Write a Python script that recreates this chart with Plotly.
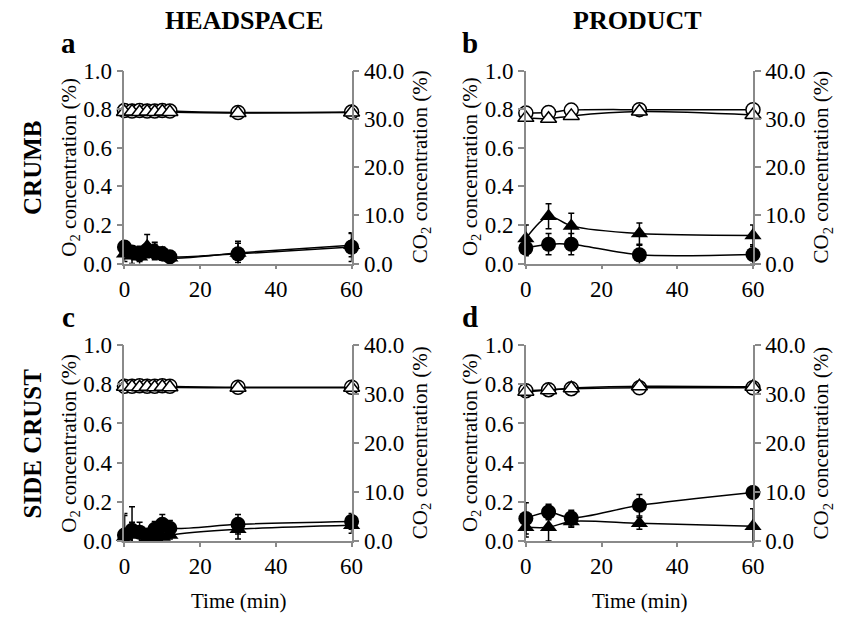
import plotly.graph_objects as go

# Sampling times (min)
time_headspace = [0, 2, 4, 6, 8, 10, 12, 30, 60]
time_product = [0, 6, 12, 30, 60]

# (a) Headspace - crumb
a_o2_circle = [0.085, 0.06, 0.05, 0.07, 0.06, 0.05, 0.035, 0.05, 0.085]
a_o2_circle_err = [0.03, 0.03, 0.04, 0.03, 0.04, 0.03, 0.02, 0.065, 0.075]
a_o2_tri = [0.05, 0.04, 0.035, 0.09, 0.07, 0.055, 0.03, 0.055, 0.095]
a_o2_tri_err = [0.04, 0.04, 0.05, 0.06, 0.04, 0.03, 0.03, 0.05, 0.06]
a_co2_circle = [31.7, 31.6, 31.7, 31.6, 31.6, 31.7, 31.6, 31.3, 31.4]
a_co2_tri = [31.4, 31.5, 31.4, 31.5, 31.4, 31.5, 31.4, 31.2, 31.3]

# (b) Product - crumb
b_o2_circle = [0.08, 0.10, 0.10, 0.045, 0.047]
b_o2_circle_err = [0.04, 0.055, 0.055, 0.05, 0.05]
b_o2_tri = [0.13, 0.245, 0.195, 0.155, 0.145]
b_o2_tri_err = [0.07, 0.065, 0.065, 0.055, 0.055]
b_co2_circle = [31.2, 31.3, 31.8, 31.9, 31.9]
b_co2_tri = [30.2, 30.0, 30.6, 31.5, 30.8]

# (c) Headspace - side crust
c_o2_circle = [0.03, 0.055, 0.045, 0.03, 0.06, 0.085, 0.065, 0.085, 0.10]
c_o2_circle_err = [0.10, 0.12, 0.05, 0.03, 0.04, 0.05, 0.04, 0.05, 0.04]
c_o2_tri = [0.02, 0.035, 0.03, 0.015, 0.015, 0.02, 0.03, 0.06, 0.08]
c_o2_tri_err = [0.12, 0.06, 0.04, 0.03, 0.03, 0.03, 0.02, 0.05, 0.04]
c_co2_circle = [31.6, 31.6, 31.7, 31.6, 31.6, 31.7, 31.6, 31.4, 31.4]
c_co2_tri = [31.5, 31.5, 31.4, 31.5, 31.4, 31.5, 31.4, 31.3, 31.3]

# (d) Product - side crust
d_o2_circle = [0.115, 0.148, 0.117, 0.182, 0.248]
d_o2_circle_err = [0.08, 0.04, 0.04, 0.055, 0.03]
d_o2_tri = [0.07, 0.07, 0.10, 0.09, 0.075]
d_o2_tri_err = [0.05, 0.07, 0.03, 0.03, 0.09]
d_co2_circle = [30.7, 30.9, 31.1, 31.3, 31.3]
d_co2_tri = [30.5, 30.8, 31.2, 31.6, 31.5]

x_ticks = [0, 20, 40, 60]
o2_ticks = [0.0, 0.2, 0.4, 0.6, 0.8, 1.0]
co2_ticks = [0.0, 10.0, 20.0, 30.0, 40.0]

FONT = "Liberation Serif"
AXIS_GREY = "#8a8a8a"
W, H = 857, 625

# pixel boxes of the four panels: (left, right, top, bottom)
panels = [
    dict(letter="a", box=(121, 353, 61, 262), t=time_headspace,
         o2=[(a_o2_circle, a_o2_circle_err, "circle"), (a_o2_tri, a_o2_tri_err, "triangle-up")],
         co2=[(a_co2_circle, "circle"), (a_co2_tri, "triangle-up")], xtitle=False),
    dict(letter="b", box=(531, 763, 61, 262), t=time_product,
         o2=[(b_o2_circle, b_o2_circle_err, "circle"), (b_o2_tri, b_o2_tri_err, "triangle-up")],
         co2=[(b_co2_circle, "circle"), (b_co2_tri, "triangle-up")], xtitle=False),
    dict(letter="c", box=(121, 353, 347, 551), t=time_headspace,
         o2=[(c_o2_circle, c_o2_circle_err, "circle"), (c_o2_tri, c_o2_tri_err, "triangle-up")],
         co2=[(c_co2_circle, "circle"), (c_co2_tri, "triangle-up")], xtitle=True),
    dict(letter="d", box=(531, 763, 347, 551), t=time_product,
         o2=[(d_o2_circle, d_o2_circle_err, "circle"), (d_o2_tri, d_o2_tri_err, "triangle-up")],
         co2=[(d_co2_circle, "circle"), (d_co2_tri, "triangle-up")], xtitle=True),
]

fig = go.Figure()
layout = {}
annotations = []

axis_common = dict(
    showline=True, linecolor=AXIS_GREY, linewidth=1.5,
    ticks="outside", ticklen=6, tickwidth=1.5, tickcolor=AXIS_GREY,
    showgrid=False, zeroline=False,
    tickfont=dict(family=FONT, size=23, color="black"),
)

for i, p in enumerate(panels):
    l, r, t, b = p["box"]
    xdom = [l / W, r / W]
    ydom = [1 - b / H, 1 - t / H]
    xn = i + 1
    yl = 2 * i + 1
    yr = 2 * i + 2
    xname = "xaxis" if xn == 1 else f"xaxis{xn}"
    ylname = "yaxis" if yl == 1 else f"yaxis{yl}"
    yrname = f"yaxis{yr}"
    xref = "x" if xn == 1 else f"x{xn}"
    ylref = "y" if yl == 1 else f"y{yl}"
    yrref = f"y{yr}"

    layout[xname] = dict(axis_common, domain=xdom, anchor=ylref, range=[0, 60],
                         tickvals=x_ticks, ticklen=4)
    layout[ylname] = dict(axis_common, domain=ydom, anchor=xref, range=[0, 1.0],
                          tickvals=o2_ticks, tickformat=".1f")
    layout[yrname] = dict(axis_common, domain=ydom, anchor=xref, range=[0, 40],
                          tickvals=co2_ticks, tickformat=".1f", side="right",
                          overlaying=ylref)

    # O2 series (filled markers, left axis)
    for vals, errs, sym in p["o2"]:
        fig.add_trace(go.Scatter(
            x=p["t"], y=vals, xaxis=xref, yaxis=ylref, mode="lines+markers",
            line=dict(color="black", width=1.5, shape="spline", smoothing=0.8),
            marker=dict(symbol=sym, size=15, color="black"),
            error_y=dict(type="data", array=errs, color="black", thickness=1.5, width=3),
            cliponaxis=False, showlegend=False))
    # CO2 series (open markers, right axis)
    for vals, sym in p["co2"]:
        fig.add_trace(go.Scatter(
            x=p["t"], y=vals, xaxis=xref, yaxis=yrref, mode="lines+markers",
            line=dict(color="black", width=1.5, shape="spline", smoothing=0.8),
            marker=dict(symbol=sym, size=14, color="white",
                        line=dict(color="black", width=1.5)),
            error_y=dict(type="data", array=[0.3] * len(vals), color="black",
                         thickness=1.2, width=2),
            cliponaxis=False, showlegend=False))

    # axis titles
    cy = (t + b) / 2
    annotations.append(dict(
        text="O<sub>2</sub> concentration (%)", x=(l - 56) / W, y=1 - cy / H,
        xref="paper", yref="paper", textangle=-90, showarrow=False,
        xanchor="center", yanchor="middle",
        font=dict(family=FONT, size=21, color="black")))
    annotations.append(dict(
        text="CO<sub>2</sub> concentration (%)", x=(r + 71) / W, y=1 - cy / H,
        xref="paper", yref="paper", textangle=-90, showarrow=False,
        xanchor="center", yanchor="middle",
        font=dict(family=FONT, size=21, color="black")))
    if p["xtitle"]:
        annotations.append(dict(
            text="Time (min)", x=(l + r) / 2 / W, y=1 - 614 / H,
            xref="paper", yref="paper", showarrow=False,
            xanchor="center", yanchor="middle",
            font=dict(family=FONT, size=21, color="black")))
    # panel letter
    annotations.append(dict(
        text=f"<b>{p['letter']}</b>", x=(l - 57) / W, y=1 - (t - 29) / H,
        xref="paper", yref="paper", showarrow=False,
        xanchor="center", yanchor="middle",
        font=dict(family=FONT, size=29, color="black")))

# column and row headings
for text, cx in [("HEADSPACE", 243), ("PRODUCT", 645)]:
    annotations.append(dict(
        text=f"<b>{text}</b>", x=cx / W, y=1 - 9 / H, xref="paper", yref="paper",
        showarrow=False, xanchor="center", yanchor="middle",
        font=dict(family=FONT, size=26, color="black")))
for text, cy in [("CRUMB", 162), ("SIDE CRUST", 449)]:
    annotations.append(dict(
        text=f"<b>{text}</b>", x=27 / W, y=1 - cy / H, xref="paper", yref="paper",
        showarrow=False, xanchor="center", yanchor="middle", textangle=-90,
        font=dict(family=FONT, size=25, color="black")))

fig.update_layout(
    width=W, height=H, margin=dict(l=0, r=0, t=0, b=0),
    paper_bgcolor="white", plot_bgcolor="rgba(0,0,0,0)",
    showlegend=False, annotations=annotations,
    font=dict(family=FONT, color="black"),
    **layout)

fig.write_html("out.html")
